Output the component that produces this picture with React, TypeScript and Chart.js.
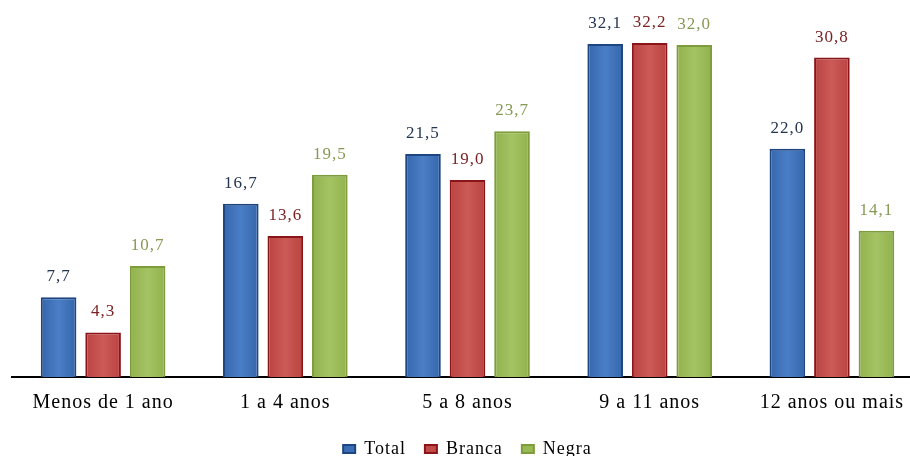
import React, { useEffect, useRef } from "react";
import { Chart, registerables } from "chart.js";

Chart.register(...registerables);

const categories = ["Menos de 1 ano", "1 a 4 anos", "5 a 8 anos", "9 a 11 anos", "12 anos ou mais"];
const seriesNames = ["Total", "Branca", "Negra"];
const totalValues = [7.7, 16.7, 21.5, 32.1, 22.0];
const brancaValues = [4.3, 13.6, 19.0, 32.2, 30.8];
const negraValues = [10.7, 19.5, 23.7, 32.0, 14.1];

const fillColors = ["#3a6db3", "#c24b49", "#98b954"];
const edgeColors = ["#3566ab", "#b94341", "#91b24e"];
const midColors = ["#4a7ec6", "#cc5a56", "#a4c363"];
const borderColors = ["#1d4580", "#8a1518", "#7e9c3c"];
const labelColors = ["#243552", "#7a2222", "#869a55"];

const SERIF = "'Liberation Serif', 'Times New Roman', serif";

const spacingPlugin = {
  id: "spacing",
  beforeUpdate(chart: any) {
    try { chart.ctx.letterSpacing = "1px"; } catch (e) {}
  },
  beforeDraw(chart: any) {
    try { chart.ctx.letterSpacing = "1px"; } catch (e) {}
  },
};

const gradientPlugin = {
  id: "barGradient",
  beforeDatasetsDraw(chart: any) {
    const ctx = chart.ctx;
    chart.data.datasets.forEach((_ds: any, i: number) => {
      const meta = chart.getDatasetMeta(i);
      meta.data.forEach((el: any) => {
        const x0 = el.x - el.width / 2;
        const x1 = el.x + el.width / 2;
        const g = ctx.createLinearGradient(x0, 0, x1, 0);
        g.addColorStop(0, edgeColors[i]);
        g.addColorStop(0.5, midColors[i]);
        g.addColorStop(1, edgeColors[i]);
        el.options = { ...el.options, backgroundColor: g };
      });
    });
  },
};

const valueLabels = {
  id: "valueLabels",
  afterDatasetsDraw(chart: any) {
    const ctx = chart.ctx;
    ctx.save();
    ctx.font = `17px ${SERIF}`;
    ctx.textAlign = "center";
    ctx.textBaseline = "alphabetic";
    try { ctx.letterSpacing = "1px"; } catch (e) {}
    chart.data.datasets.forEach((ds: any, i: number) => {
      const meta = chart.getDatasetMeta(i);
      meta.data.forEach((el: any, j: number) => {
        const v = ds.data[j];
        ctx.fillStyle = labelColors[i];
        ctx.fillText(v.toFixed(1).replace(".", ","), el.x, el.y - 16);
      });
    });
    ctx.restore();
  },
};

export default function App() {
  const ref = useRef<HTMLCanvasElement>(null);
  useEffect(() => {
    if (!ref.current) return;
    const values = [totalValues, brancaValues, negraValues];
    const chart = new Chart(ref.current, {
      type: "bar",
      data: {
        labels: categories,
        datasets: seriesNames.map((name, i) => ({
          label: name,
          data: values[i],
          backgroundColor: fillColors[i],
          borderColor: borderColors[i],
          borderWidth: 2,
          categoryPercentage: 0.733,
          barPercentage: 0.8,
        })),
      },
      options: {
        animation: false,
        responsive: true,
        maintainAspectRatio: false,
        layout: { padding: { left: 12, right: 27, top: 14, bottom: 0 } },
        scales: {
          x: {
            grid: { display: false },
            border: { display: true, color: "#000", width: 2 },
            ticks: { color: "#000", font: { family: SERIF, size: 20 }, padding: 6 },
          },
          y: { display: false, min: 0, max: 35 },
        },
        plugins: {
          legend: {
            position: "bottom",
            labels: {
              boxWidth: 12,
              boxHeight: 8,
              color: "#000",
              padding: 19,
              font: { family: SERIF, size: 18 },
            },
          },
          tooltip: { enabled: false },
        },
      },
      plugins: [spacingPlugin, gradientPlugin, valueLabels],
    });
    return () => chart.destroy();
  }, []);
  return (
    <div style={{ position: "fixed", left: 0, top: 0, width: 910, height: 456, overflow: "hidden", background: "#fff" }}>
      <div style={{ position: "relative", width: 950, height: 468 }}>
        <canvas ref={ref} />
      </div>
    </div>
  );
}
